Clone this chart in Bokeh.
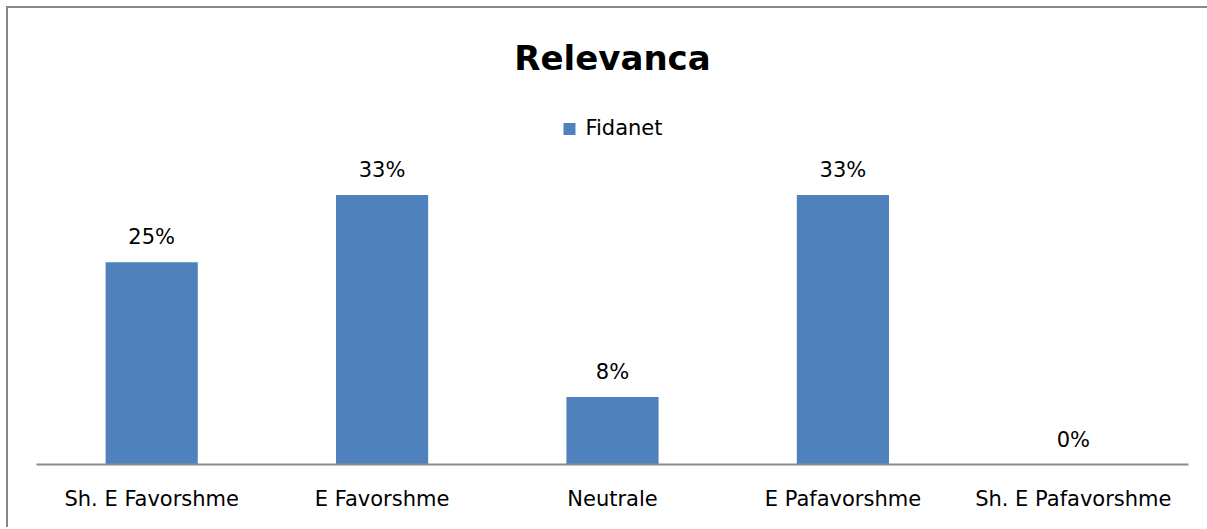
from bokeh.plotting import figure
from bokeh.models import ColumnDataSource, FactorRange, Range1d, LabelSet, Legend, LegendItem, Title
from bokeh.core.properties import value
from bokeh.embed import file_html
from bokeh.resources import INLINE

categories = ["Sh. E Favorshme", "E Favorshme", "Neutrale", "E Pafavorshme", "Sh. E Pafavorshme"]
series_name = "Fidanet"
values = [25.0, 33.33, 8.33, 33.33, 0.0]
value_labels = [f"{round(v)}%" for v in values]
chart_title = "Relevanca"

FONT = "DejaVu Sans"
BAR_COLOR = "#4F81BD"

src = ColumnDataSource(dict(cat=categories, val=values, lab=value_labels))

p = figure(
    width=1199, height=521,
    x_range=FactorRange(factors=categories, range_padding=0),
    y_range=Range1d(0, 45),
    output_backend="svg", toolbar_location=None, title=None,
    min_border_left=28, min_border_right=19, min_border_top=92, min_border_bottom=65,
)
p.styles = {"box-shadow": "-2px -2px 0 0 #878787, 2px -2px 0 0 #878787",
            "margin-left": "8px", "margin-top": "8px"}
p.outline_line_color = None
p.background_fill_color = "white"
p.border_fill_color = "white"
p.xgrid.grid_line_color = None
p.ygrid.grid_line_color = None
p.yaxis.visible = False

r = p.vbar(x="cat", top="val", width=0.4, source=src, color=BAR_COLOR, line_color=None)

labels = LabelSet(x="cat", y="val", text="lab", source=src, text_align="center",
                  text_baseline="alphabetic", y_offset=18, text_font=value(FONT),
                  text_font_size=value("21px"), text_color="black")
p.add_layout(labels)

ax = p.xaxis[0]
ax.axis_line_color = "#8c8c8c"
ax.axis_line_width = 2
ax.major_tick_line_color = None
ax.minor_tick_line_color = None
ax.major_label_text_font = FONT
ax.major_label_text_font_size = "21px"
ax.major_label_text_color = "black"
ax.major_label_standoff = 16

legend = Legend(items=[LegendItem(label=series_name, renderers=[r])], location="top_center",
                orientation="horizontal", margin=16, padding=0, border_line_color=None,
                background_fill_alpha=0, label_text_font=FONT, label_text_font_size="21px",
                label_text_color="black",
                glyph_width=15, glyph_height=15, label_standoff=9, label_height=20)
p.add_layout(legend)

t = Title(text=chart_title, align="center", text_font=FONT, text_font_size="34px",
          text_font_style="bold", text_color="black", standoff=46)
p.add_layout(t, "above")

open("out.html", "w").write(file_html(p, INLINE))
